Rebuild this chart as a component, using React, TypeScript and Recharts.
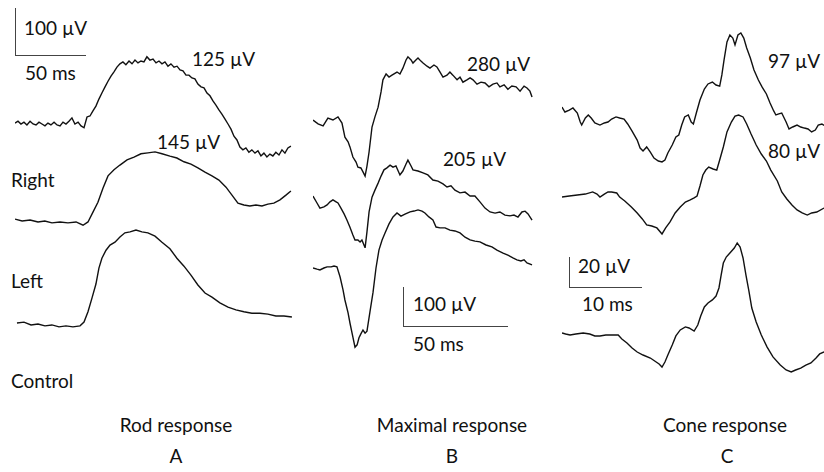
import { LineChart, Line, XAxis, YAxis } from "recharts";

// ERG traces: [time (ms), amplitude (µV) relative to pre-stimulus baseline]
const rodRight: [number, number][] = [
  [0, 2], [2.1, 6], [4.2, 0], [6.3, 4], [8.4, -2], [10.6, 6], [12.7, 0], [14.8, -2], [16.9, 4], [19, 0],
  [21.1, -4], [23.2, 2], [25.3, -2], [27.5, 4], [29.6, -2], [31.7, -4], [33.8, 4], [35.9, 0], [38, 6], [40.1, 13],
  [42.2, 0], [44.4, 4], [46.5, -4], [48.6, -8], [50.7, 15], [52.8, 17], [54.9, 28], [57, 38], [59.1, 53], [61.2, 66],
  [63.4, 79], [65.5, 91], [67.6, 102], [69.7, 111], [71.8, 121], [73.9, 128], [76, 132], [78.1, 126], [80.3, 134], [82.4, 128],
  [84.5, 136], [86.6, 130], [88.7, 134], [90.8, 132], [92.9, 143], [95, 136], [97.2, 138], [99.3, 130], [101.4, 134], [103.5, 128],
  [105.6, 132], [107.7, 123], [109.8, 128], [112, 121], [114.1, 123], [116.2, 115], [118.3, 113], [120.4, 104], [122.5, 104], [124.6, 98],
  [126.7, 96], [128.8, 85], [131, 79], [133.1, 77], [135.2, 66], [137.3, 60], [139.4, 49], [141.5, 40], [143.6, 30], [145.7, 21],
  [147.8, 11], [150, 0], [152.1, -11], [154.2, -26], [156.3, -34], [158.4, -49], [160.5, -55], [162.6, -51], [164.7, -60], [166.8, -55],
  [169, -62], [171.1, -57], [173.2, -68], [175.3, -62], [177.4, -70], [179.5, -64], [181.6, -68], [183.7, -60], [185.9, -66], [188, -55],
  [190.1, -62], [192.2, -51], [194.3, -47],
];

const rodLeft: [number, number][] = [
  [0, 4], [5, 0], [10.6, 2], [16.2, -2], [21, 0], [26, -4], [31.7, -2], [37.3, -4], [43, -2], [47.9, -9],
  [51.4, -2], [54.9, 19], [58.4, 40], [62, 70], [65.5, 96], [69.7, 109], [73.9, 119], [78.9, 130], [83.8, 136], [88.7, 143],
  [93.6, 145], [98.6, 147], [103.5, 143], [109.1, 138], [114, 134], [119, 126], [123.9, 121], [128.8, 113], [133.8, 104], [138.7, 96],
  [143.6, 87], [148.6, 72], [152.8, 55], [157, 38], [161.2, 34], [165.4, 32], [169.7, 34], [173.9, 32], [178.1, 36], [182.3, 38],
  [186.6, 45], [190.8, 55], [194.3, 64],
];

const rodControl: [number, number][] = [
  [1.4, 2], [6.3, 4], [11.3, -2], [16.2, 0], [21.1, -4], [26, -2], [31, -6], [35.9, -4], [40.8, -6], [45.8, -4],
  [48.6, 4], [51.4, 26], [54.2, 55], [57, 85], [59.1, 119], [61.2, 140], [64.1, 157], [66.9, 168], [70.4, 174], [73.9, 185],
  [77.4, 194], [81, 196], [85.2, 200], [89.4, 196], [93.6, 194], [98.6, 187], [103.5, 174], [109.1, 160], [114, 140], [119, 123],
  [123.9, 104], [128.8, 83], [133.8, 66], [138.7, 57], [144.3, 45], [150, 36], [155.6, 30], [161.2, 26], [166.8, 23], [172.5, 23],
  [178.1, 21], [183.7, 17], [189.4, 17], [195, 15],
];

const maxRight: [number, number][] = [
  [0, 0], [2.4, -10], [4.8, -15], [7.1, 5], [9.5, 0], [11.9, 8], [13.8, -8], [15.2, -44], [16.7, -56], [17.6, -69],
  [19, -95], [20.5, -108], [21.4, -121], [22.8, -123], [23.8, -133], [24.8, -144], [25.7, -118], [26.7, -82], [28.1, -18], [29.5, 8],
  [31, 33], [32.4, 72], [33.3, 103], [34.8, 118], [36.2, 110], [37.6, 115], [40, 123], [41.4, 118], [42.8, 133], [44.3, 154],
  [45.2, 162], [46.7, 154], [47.6, 146], [49, 154], [50, 159], [51.4, 151], [52.4, 146], [54.3, 138], [55.7, 133], [57.6, 141],
  [59, 136], [60.5, 123], [61.9, 110], [63.8, 115], [65.2, 123], [66.6, 115], [68.6, 103], [70, 110], [71.4, 97], [73.3, 103],
  [74.8, 108], [76.2, 103], [78.1, 92], [80, 97], [81.9, 95], [83.8, 85], [85.7, 92], [87.6, 95], [89, 85], [91, 90],
  [92.8, 79], [94.7, 87], [96.7, 85], [98.6, 74], [100.5, 87], [101.9, 82], [103.3, 74], [104.3, 59],
];

const maxLeft: [number, number][] = [
  [0, 18], [1.9, 0], [3.3, -13], [5.2, -10], [6.7, -5], [8.1, 3], [9.5, 8], [11, 3], [11.9, 0], [13.3, -13],
  [14.8, -28], [16.2, -44], [17.6, -62], [19, -82], [20, -95], [21.4, -95], [22.4, -100], [23.3, -95], [24.8, -115], [25.7, -74],
  [26.7, -23], [28.1, 15], [29.5, 33], [31, 51], [32.4, 69], [33.8, 85], [35.2, 90], [36.7, 97], [38.1, 92], [39.5, 95],
  [41.4, 72], [42.8, 82], [44.3, 100], [45.2, 110], [46.7, 95], [47.6, 85], [50, 82], [52.4, 77], [54.7, 72], [57.1, 59],
  [59.5, 56], [61.9, 49], [63.8, 41], [65.7, 44], [67.6, 33], [70, 26], [72.4, 28], [74.8, 18], [77.1, 18], [79.5, 3],
  [81.9, -13], [84.3, -23], [86.7, -26], [89, -23], [91.4, -31], [93.8, -33], [95.7, -31], [97.6, -36], [99.5, -23], [101, -21],
  [102.4, -28], [104.3, -44],
];

const maxControl: [number, number][] = [
  [0, 0], [1.9, -3], [3.3, -5], [5.2, 0], [6.7, 3], [8.6, 3], [10, 5], [11.4, 3], [12.9, -23], [14.3, -56],
  [15.2, -82], [16.7, -115], [17.6, -141], [19, -177], [20, -203], [21, -197], [21.9, -179], [22.8, -169], [23.8, -159], [24.8, -167],
  [25.7, -162], [27.1, -113], [28.6, -62], [30, 0], [31.4, 46], [32.9, 72], [34.3, 90], [36.2, 113], [38.1, 131], [40, 141],
  [41.9, 133], [43.8, 138], [46.2, 144], [48.1, 146], [50, 149], [51.9, 146], [53.3, 141], [55.2, 131], [57.1, 123], [58.6, 105],
  [60.5, 103], [62.9, 103], [65.2, 97], [67.6, 95], [70, 90], [72.4, 79], [74.8, 72], [77.1, 69], [79.5, 67], [82.4, 59],
  [85.2, 54], [87.6, 46], [90.5, 38], [92.8, 33], [95.2, 26], [97.1, 21], [99, 18], [100.5, 21], [101.9, 13], [104.3, 8],
];

const coneRight: [number, number][] = [
  [0, 7.3], [0.4, 4], [1, 5.3], [1.5, 6.7], [2.1, 3.3], [2.5, -2.7], [2.7, -4.7], [3.2, 0], [3.6, 2], [4, 0],
  [4.5, -3.3], [5.2, -4.7], [5.8, -3.3], [6.3, -2.7], [6.8, -0.7], [7.4, 0.7], [7.9, 0], [8.5, -0.7], [9, -4], [9.6, -8.7],
  [10.3, -14.7], [10.7, -20], [11.1, -22], [11.6, -19.3], [12.1, -22.7], [12.6, -26.7], [13.2, -28.7], [13.7, -29.3], [14.1, -28], [14.5, -23.3],
  [15.1, -18], [15.6, -12.7], [16, -11.3], [16.4, -4.7], [16.8, 0.7], [17.3, 2], [17.7, -2.7], [18, -4], [18.4, 3.3], [18.9, 12],
  [19.5, 19.3], [20, 22.7], [20.6, 24], [21.1, 22], [21.6, 21.3], [21.9, 28.7], [22.2, 38.7], [22.6, 50.7], [23, 55.3], [23.4, 53.3],
  [23.7, 48.7], [24.1, 55.3], [24.5, 56.7], [24.9, 53.3], [25.3, 46.7], [25.8, 40], [26.3, 32], [26.9, 25.3], [27.4, 20.7], [28, 16],
  [28.5, 10], [29, 4.7], [29.3, 2], [29.7, 2.7], [30.1, 3.3], [30.7, -2.7], [31.1, -7.3], [31.6, -6], [32.2, -4.7], [32.7, -6],
  [33.2, -6.7], [33.7, -7.3], [34.2, -9.3], [34.7, -8], [35.1, -4.7], [35.6, -4], [35.9, -5],
];

const coneLeft: [number, number][] = [
  [0, -0.7], [1, 0], [2.1, 0.7], [3.2, 1.3], [4.2, 2.7], [4.8, 1.3], [5.2, -0.7], [5.8, 1.3], [6.3, 2.7], [6.8, 2.7],
  [7.5, 2], [7.9, -0.7], [8.6, -3.3], [9.5, -7.3], [10.3, -11.3], [11, -15.3], [11.6, -19.3], [12.3, -20], [13, -21.3], [13.7, -25.3],
  [14.2, -21.3], [14.8, -17.3], [15.5, -11.3], [16.2, -7.3], [16.9, -4], [17.5, -2.7], [18.1, -1.3], [18.5, 0], [18.9, 6.7], [19.3, 14],
  [19.7, 17.3], [20.1, 19.3], [20.7, 18], [21.2, 17.3], [21.6, 24], [22.1, 32.7], [22.6, 42.7], [23.2, 49.3], [23.7, 53.3], [24.2, 54],
  [24.8, 52.7], [25.3, 48], [25.9, 41.3], [26.6, 34], [27.3, 28], [28, 23.3], [28.6, 17.3], [29.5, 10], [30.1, 2.7], [30.8, -2],
  [31.5, -6], [32.2, -9.3], [32.9, -11.3], [33.6, -12.7], [34.2, -11.3], [34.9, -10.7], [35.9, -8],
];

const coneControl: [number, number][] = [
  [0, 0.7], [0.5, 0], [1.1, -0.7], [1.9, 0], [2.9, 0.7], [3.8, 0], [4.5, -1.3], [5.2, -1.3], [6, -0.7], [6.8, -0.7],
  [7.7, -0.7], [8.2, -3.3], [8.9, -6], [9.6, -9.3], [10.3, -12], [11.1, -14], [12.1, -16], [12.7, -18], [13.3, -20], [13.7, -22],
  [14.1, -18.7], [14.5, -14], [15.1, -7.3], [15.6, -1.3], [16.2, 2.7], [16.9, 4.7], [17.4, 4], [18.1, 2], [18.6, 6], [19, 12],
  [19.5, 18], [20, 20.7], [20.6, 22.7], [21.1, 25.3], [21.5, 30.7], [21.8, 39.3], [22.1, 47.3], [22.5, 51.3], [23, 54], [23.6, 57.3],
  [24, 60.7], [24.4, 58], [24.8, 50.7], [25.2, 39.3], [25.6, 28.7], [26, 17.3], [26.6, 8], [27.3, -0.7], [28.1, -8.7], [28.9, -15.3],
  [29.9, -20.7], [30.7, -24], [31.4, -25.3], [32, -24], [32.7, -22.7], [33.4, -20.7], [34.1, -19.3], [34.8, -16], [35.3, -13.3], [35.9, -12],
];

const W = 824;
const H = 472;
const FONT = "Lato, 'Noto Sans', sans-serif";

type Panel = {
  left: number;
  width: number;
  msPerPx: number;
  uvPerPx: number;
  traces: { data: [number, number][]; baseY: number }[];
};

const panels: Panel[] = [
  {
    left: 15, width: 277, msPerPx: 50 / 71, uvPerPx: 100 / 47,
    traces: [
      { data: rodRight, baseY: 124 },
      { data: rodLeft, baseY: 221 },
      { data: rodControl, baseY: 324 },
    ],
  },
  {
    left: 313, width: 220, msPerPx: 50 / 105, uvPerPx: 100 / 39,
    traces: [
      { data: maxRight, baseY: 120 },
      { data: maxLeft, baseY: 203 },
      { data: maxControl, baseY: 268 },
    ],
  },
  {
    left: 562, width: 262, msPerPx: 10 / 73, uvPerPx: 20 / 30,
    traces: [
      { data: coneRight, baseY: 118 },
      { data: coneLeft, baseY: 196 },
      { data: coneControl, baseY: 334 },
    ],
  },
];

function PanelChart({ p }: { p: Panel }) {
  return (
    <div style={{ position: "absolute", left: p.left, top: 0 }}>
      <LineChart width={p.width} height={H} margin={{ top: 0, right: 0, bottom: 0, left: 0 }}>
        <XAxis type="number" dataKey="t" domain={[0, p.width * p.msPerPx]} hide allowDataOverflow />
        {p.traces.map((tr, i) => (
          <YAxis
            key={i}
            yAxisId={i}
            type="number"
            hide
            allowDataOverflow
            domain={[(tr.baseY - H) * p.uvPerPx, tr.baseY * p.uvPerPx]}
          />
        ))}
        {p.traces.map((tr, i) => (
          <Line
            key={i}
            yAxisId={i}
            data={tr.data.map(([t, v]) => ({ t, v }))}
            dataKey="v"
            type="linear"
            stroke="#111"
            strokeWidth={1.4}
            dot={false}
            isAnimationActive={false}
          />
        ))}
      </LineChart>
    </div>
  );
}

function Label({ x, y, text, center }: { x: number; y: number; text: string; center?: boolean }) {
  return (
    <div
      style={{
        position: "absolute",
        left: x,
        top: y,
        transform: center ? "translate(-50%, -50%)" : "translateY(-50%)",
        fontFamily: FONT,
        fontSize: 19,
        lineHeight: 1,
        whiteSpace: "nowrap",
        color: "#111",
      }}
    >
      {text}
    </div>
  );
}

function ScaleBar({ x, yTop, yBase, xEnd }: { x: number; yTop: number; yBase: number; xEnd: number }) {
  return (
    <>
      <div style={{ position: "absolute", left: x, top: yTop, width: 1, height: yBase - yTop, background: "#444" }} />
      <div style={{ position: "absolute", left: x, top: yBase, width: xEnd - x, height: 1, background: "#444" }} />
    </>
  );
}

export default function App() {
  return (
    <div style={{ position: "absolute", left: 0, top: 0, width: W, height: H, background: "#fff", overflow: "hidden" }}>
      {panels.map((p, i) => (
        <PanelChart key={i} p={p} />
      ))}

      <ScaleBar x={15} yTop={8} yBase={55} xEnd={86} />
      <ScaleBar x={403} yTop={287} yBase={326} xEnd={508} />
      <ScaleBar x={569} yTop={257} yBase={287} xEnd={642} />

      <Label x={24} y={27} text="100 µV" />
      <Label x={25} y={72} text="50 ms" />
      <Label x={192} y={58} text="125 µV" />
      <Label x={157} y={141} text="145 µV" />
      <Label x={11} y={179} text="Right" />
      <Label x={11} y={280} text="Left" />
      <Label x={11} y={380} text="Control" />

      <Label x={467} y={63} text="280 µV" />
      <Label x={443} y={158} text="205 µV" />
      <Label x={413} y={303} text="100 µV" />
      <Label x={413} y={343} text="50 ms" />

      <Label x={768} y={60} text="97 µV" />
      <Label x={768} y={150} text="80 µV" />
      <Label x={578} y={265} text="20 µV" />
      <Label x={582} y={303} text="10 ms" />

      <Label x={176} y={424} text="Rod response" center />
      <Label x={176} y={455} text="A" center />
      <Label x={452} y={424} text="Maximal response" center />
      <Label x={452} y={455} text="B" center />
      <Label x={725} y={424} text="Cone response" center />
      <Label x={727} y={455} text="C" center />
    </div>
  );
}
